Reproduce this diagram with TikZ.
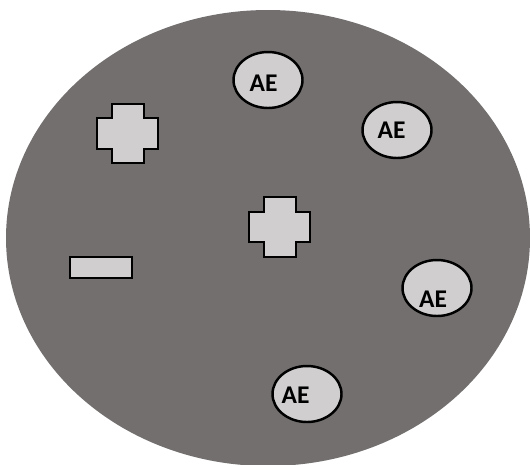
\documentclass[tikz,border=0pt]{standalone}
\usepackage{fontspec}
\setmainfont{Carlito}
\usetikzlibrary{shapes.geometric}
\definecolor{cellgray}{RGB}{114,111,110}
\definecolor{partgray}{RGB}{208,206,206}
\tikzset{
  part/.style={fill=partgray, draw=black, line width=1.4pt, line join=miter},
  aeblob/.style={part, ellipse, minimum width=1.38cm, minimum height=1.12cm, inner sep=0pt},
  aetext/.style={font=\fontsize{14.5}{16}\selectfont\bfseries, inner sep=0pt}
}
\begin{document}
\begin{tikzpicture}[x=0.02cm, y=-0.02cm]
  \useasboundingbox (0,0) rectangle (530,464);
  \clip (0,0) rectangle (530,464);
  % cell body
  \fill[cellgray] (268,238) ellipse [x radius=262, y radius=228];
  % positive charges
  \draw[part] (112,104) -- (144,104) -- (144,118) -- (158,118) -- (158,149) -- (144,149)
    -- (144,163) -- (112,163) -- (112,149) -- (97,149) -- (97,118) -- (112,118) -- cycle;
  \draw[part] (264,197) -- (296,197) -- (296,212) -- (310,212) -- (310,242) -- (296,242)
    -- (296,257) -- (264,257) -- (264,242) -- (249,242) -- (249,212) -- (264,212) -- cycle;
  % negative charge
  \draw[part] (70,257) rectangle (132,278);
  % AE particles
  \node[aeblob, label={[aetext, xshift=-0.09cm, yshift=-0.06cm]center:AE}] (ae1) at (268,80) {};
  \node[aeblob, label={[aetext, xshift=-0.11cm, yshift=-0.01cm]center:AE}] (ae2) at (397,130) {};
  \node[aeblob, label={[aetext, xshift=-0.08cm, yshift=-0.22cm]center:AE}] (ae3) at (437,288) {};
  \node[aeblob, label={[aetext, xshift=-0.23cm, yshift=-0.03cm]center:AE}] (ae4) at (307,394) {};
\end{tikzpicture}
\end{document}
